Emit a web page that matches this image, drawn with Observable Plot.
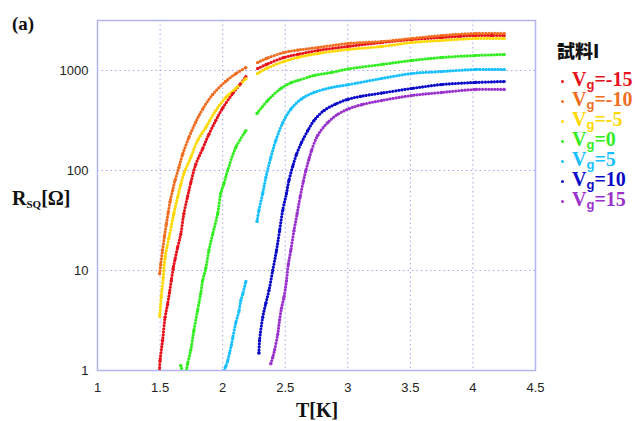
<!DOCTYPE html>
<html>
<head>
<meta charset="utf-8">
<script src="https://cdn.jsdelivr.net/npm/d3@7"></script>
<script src="https://cdn.jsdelivr.net/npm/@observablehq/plot@0.6"></script>
<style>
  html, body { margin: 0; padding: 0; background: #fff; }
  #wrap { position: relative; width: 635px; height: 421px; overflow: hidden; }
  .lab { position: absolute; font-family: "Liberation Serif", "Times New Roman", serif; font-weight: bold; color: #111; white-space: nowrap; }
  .leg { position: absolute; left: 559px; font-family: "Liberation Serif", "Times New Roman", serif; font-weight: bold; font-size: 20px; line-height: 20px; height: 20px; white-space: nowrap; }
  .leg .pt { display: inline-block; width: 3px; height: 3px; border-radius: 50%; vertical-align: middle; margin: 0 8px 0 2px; }
  .leg sub { font-family: "Liberation Sans", Arial, sans-serif; font-size: 13px; vertical-align: -3px; line-height: 0; }
</style>
</head>
<body>
<div id="wrap"></div>
<script>
// ---- data ----
const seriesLabels = ["-15", "-10", "-5", "0", "5", "10", "15"];
const seriesColors = ["#e8121c", "#f06e22", "#ffd800", "#33ee22", "#18c0ff", "#0a0ac8", "#9a33cc"];

// null marks a break in the measured series
const tempM15 = [1.495,1.50,1.52,1.54,1.56,1.575,1.59,1.605,1.62,1.64,1.665,1.69,1.72,1.745,1.785,1.84,1.89,1.945,2.0,2.08,2.14,2.186,null,2.28,2.35,2.49,2.6,2.76,3.0,3.27,3.51,3.75,3.9,4.02,4.15,4.25];
const rsqM15  = [1,1.26,2,3.4,4.6,6.0,8.0,10.5,13,17,23,37,55,75,115,165,230,316,420,589,730,870,null,1047,1150,1349,1450,1585,1738,1905,2042,2138,2200,2239,2240,2239];

const tempM10 = [1.497,1.505,1.52,1.535,1.55,1.565,1.58,1.60,1.62,1.65,1.68,1.73,1.785,1.84,1.92,2.025,2.105,2.186,null,2.28,2.35,2.49,2.6,2.76,3.0,3.27,3.51,3.75,4.02,4.25];
const rsqM10  = [9.3,11.5,16,22,29,38,49,63,80,107,145,214,305,410,575,780,930,1070,null,1202,1320,1514,1600,1698,1862,1950,2089,2239,2344,2344];

const tempM5 = [1.497,1.51,1.525,1.54,1.57,1.61,1.64,1.665,1.69,1.745,1.80,1.865,1.945,2.025,2.105,2.186,null,2.28,2.35,2.49,2.6,2.76,3.0,3.27,3.51,3.75,4.02,4.25];
const rsqM5  = [3.5,5.5,8.5,13.5,21,37,54,72,93,135,200,269,398,537,661,832,null,933,1050,1230,1350,1479,1622,1738,1905,1995,2089,2089];

const temp0 = [1.665,1.672,null,1.71,1.72,1.745,1.77,1.80,1.825,1.84,1.865,1.89,1.92,1.96,1.985,2.01,2.04,2.105,2.186,null,2.275,2.36,2.465,2.55,2.6,2.73,2.87,3.0,3.27,3.51,3.75,4.02,4.25];
const rsq0  = [1.12,1.05,null,1.0,1.17,1.6,2.5,4,5.9,7.9,10.5,15.8,23,37,59,74,100,170,251,null,372,501,661,759,794,891,955,1035,1148,1259,1349,1413,1445];

const tempP5 = [2.01,2.025,2.04,2.055,2.07,2.08,2.105,2.13,2.145,2.16,2.186,null,2.275,2.29,2.32,2.345,2.385,2.425,2.48,2.545,2.63,2.73,2.87,3.0,3.27,3.51,3.75,4.02,4.25];
const rsqP5  = [1.0,1.1,1.25,1.5,1.8,2.1,3.0,3.9,5.0,5.8,7.8,null,31,40,59,85,135,200,300,410,520,603,676,720,832,933,977,1023,1023];

const tempP10 = [2.29,2.295,2.32,2.345,2.37,2.40,2.43,2.455,2.48,2.51,2.53,2.56,2.59,2.63,2.68,2.73,2.81,2.9,3.0,3.1,3.27,3.51,3.75,4.02,4.25];
const rsqP10  = [1.5,2.0,3.4,4.7,6.3,10,15.8,25,40,59,80,110,145,190,250,316,398,460,515,550,595,661,724,759,776];

const tempP15 = [2.385,2.40,2.415,2.44,2.455,2.47,2.49,2.51,2.525,2.545,2.57,2.595,2.62,2.645,2.665,2.69,2.71,2.76,2.84,2.92,3.01,3.11,3.27,3.51,3.75,4.02,4.25];
const rsqP15  = [1.17,1.35,1.6,2.3,3.2,4.2,5.4,7.9,11.5,16,25,37,55,78,100,130,158,225,302,365,415,455,501,562,603,646,646];

const xTicks = [1, 1.5, 2, 2.5, 3, 3.5, 4, 4.5];
const xGridTicks = [1.5, 2, 2.5, 3, 3.5, 4];
const yTicks = [1, 10, 100, 1000];
const yGridTicks = [10, 100, 1000];

// ---- build table ----
const temps = [tempM15, tempM10, tempM5, temp0, tempP5, tempP10, tempP15];
const rsqs  = [rsqM15, rsqM10, rsqM5, rsq0, rsqP5, rsqP10, rsqP15];
const rows = [];
seriesLabels.forEach((lab, si) => {
  let seg = 0;
  temps[si].forEach((t, i) => {
    const r = rsqs[si][i];
    if (t == null || r == null) { seg++; return; }
    rows.push({T: t, R: r, series: lab, key: lab + "_" + seg});
  });
});

const chart = Plot.plot({
  width: 635,
  height: 421,
  marginLeft: 97,
  marginRight: 100,
  marginTop: 20,
  marginBottom: 51,
  style: {fontFamily: "'Liberation Sans', Arial, sans-serif", fontSize: "13px", color: "#222", background: "#fff"},
  x: {domain: [1, 4.5], label: null},
  y: {type: "log", domain: [1, 3162], label: null},
  color: {domain: seriesLabels, range: seriesColors},
  marks: [
    Plot.gridX(xGridTicks, {stroke: "#a6a6f2", strokeOpacity: 1, strokeWidth: 1, strokeDasharray: "1.5,3"}),
    Plot.gridY(yGridTicks, {stroke: "#a6a6f2", strokeOpacity: 1, strokeWidth: 1, strokeDasharray: "1.5,3"}),
    Plot.frame({stroke: "#b4b4f2", strokeWidth: 1.5}),
    Plot.axisX(xTicks, {tickSize: 0, tickPadding: 12, tickFormat: d => String(d), label: null}),
    Plot.axisY(yTicks, {tickSize: 0, tickPadding: 9, tickFormat: d => String(d), label: null}),
    Plot.line(rows, {x: "T", y: "R", z: "key", stroke: "series", strokeWidth: 3.2, strokeDasharray: "0 3", strokeLinecap: "round", curve: "catmull-rom", clip: true}),
    Plot.dot(rows, {x: "T", y: "R", fill: "series", r: 1.6, clip: true})
  ]
});

const wrap = document.getElementById("wrap");
wrap.appendChild(chart);

function addLabel(html, css) {
  const d = document.createElement("div");
  d.className = "lab";
  d.innerHTML = html;
  Object.assign(d.style, css);
  wrap.appendChild(d);
  return d;
}
addLabel("(a)", {left: "12px", top: "12px", fontSize: "19px", lineHeight: "24px"});
addLabel("R<span style='font-size:11px;vertical-align:-3px;line-height:0'>SQ</span>[Ω]", {left: "12px", top: "186px", fontSize: "20px", lineHeight: "24px"});
addLabel("T[K]", {left: "296px", top: "398px", fontSize: "20px", lineHeight: "24px"});

// legend
const title = document.createElement("div");
title.className = "lab";
title.textContent = "試料I";
Object.assign(title.style, {left: "557px", top: "38px", fontSize: "18px", lineHeight: "24px", fontFamily: "'Noto Sans CJK JP', sans-serif", fontWeight: "900", color: "#111"});
wrap.appendChild(title);

seriesLabels.forEach((lab, i) => {
  const d = document.createElement("div");
  d.className = "leg";
  d.style.top = (69 + i * 20) + "px";
  d.style.color = seriesColors[i];
  d.innerHTML = `<span class="pt" style="background:${seriesColors[i]}"></span>V<sub>g</sub>=${lab}`;
  wrap.appendChild(d);
});
</script>
</body>
</html>
